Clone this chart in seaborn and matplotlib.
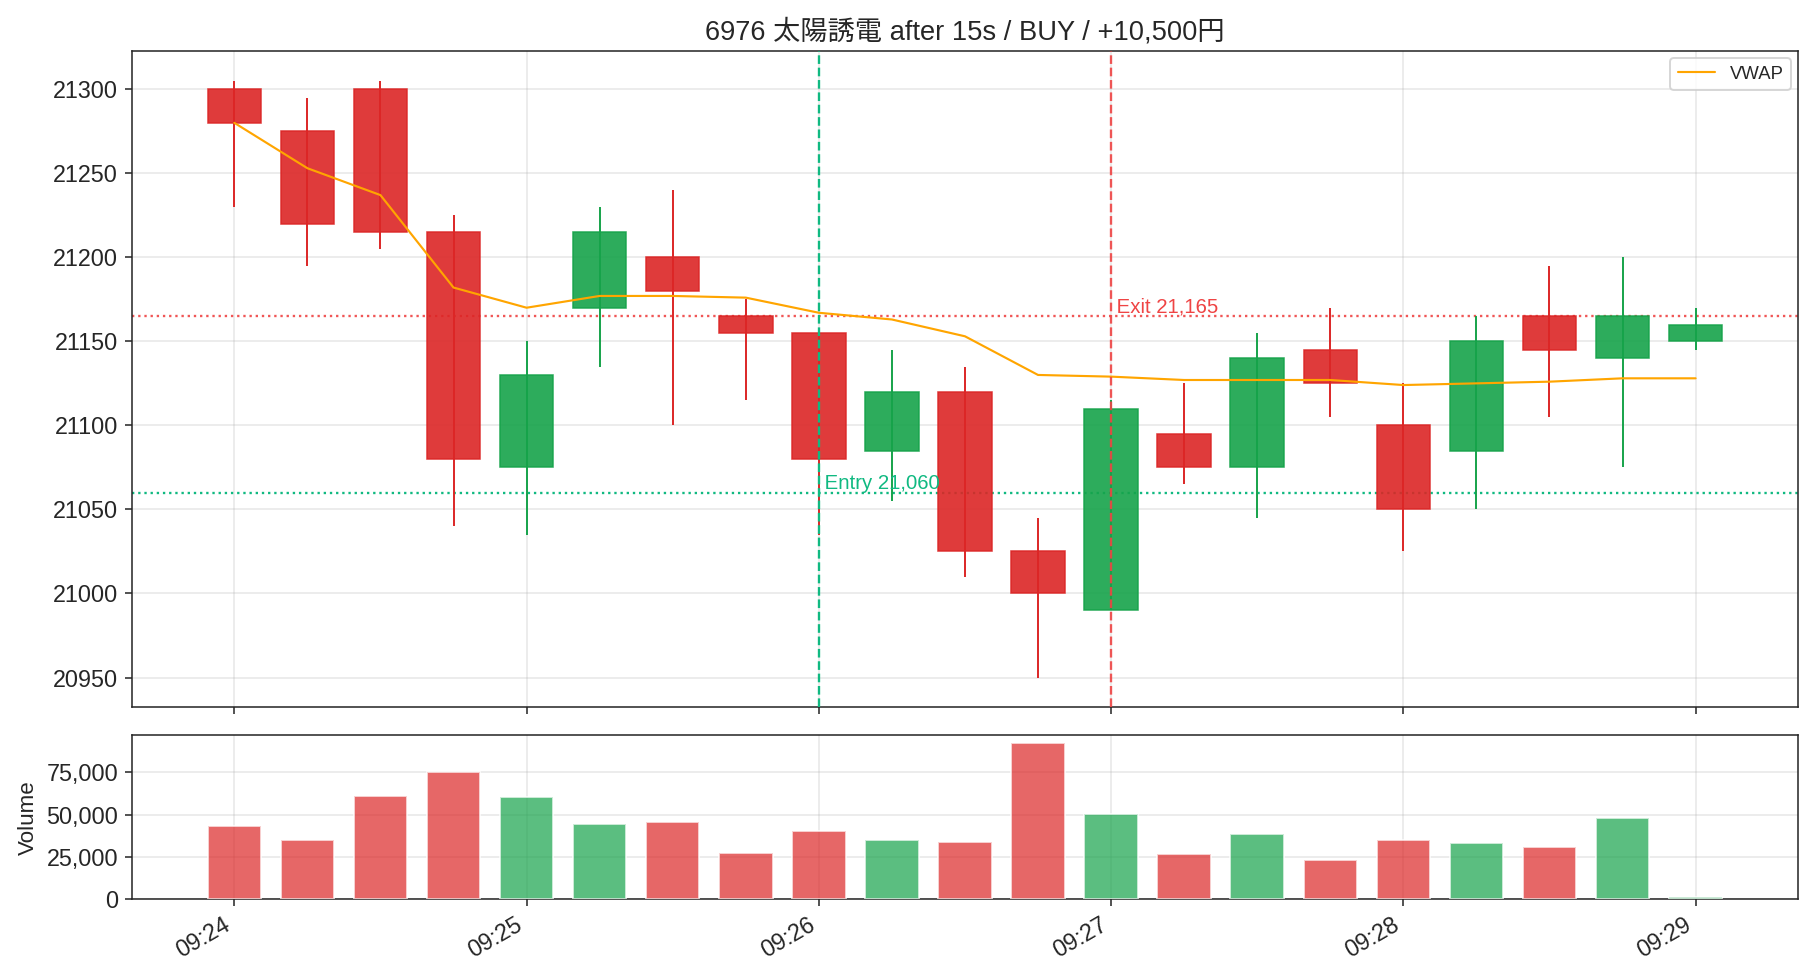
import numpy as np
import pandas as pd
import matplotlib
matplotlib.use("Agg")
import matplotlib.pyplot as plt
import matplotlib.dates as mdates
import matplotlib.ticker as mticker
import seaborn as sns

# ==========================================
# Data (15s bars, 6976 太陽誘電)
# ==========================================
times = ["09:24:00", "09:24:15", "09:24:30", "09:24:45",
         "09:25:00", "09:25:15", "09:25:30", "09:25:45",
         "09:26:00", "09:26:15", "09:26:30", "09:26:45",
         "09:27:00", "09:27:15", "09:27:30", "09:27:45",
         "09:28:00", "09:28:15", "09:28:30", "09:28:45",
         "09:29:00"]
opens = [21300, 21275, 21300, 21215, 21075, 21170, 21200, 21165, 21155, 21085, 21120,
         21025, 20990, 21095, 21075, 21145, 21100, 21085, 21165, 21140, 21150]
highs = [21305, 21295, 21305, 21225, 21150, 21230, 21240, 21175, 21155, 21145, 21135,
         21045, 21115, 21125, 21155, 21170, 21125, 21165, 21195, 21200, 21170]
lows = [21230, 21195, 21205, 21040, 21035, 21135, 21100, 21115, 21035, 21055, 21010,
        20950, 20990, 21065, 21045, 21105, 21025, 21050, 21105, 21075, 21145]
closes = [21280, 21220, 21215, 21080, 21130, 21215, 21180, 21155, 21080, 21120, 21025,
          21000, 21110, 21075, 21140, 21125, 21050, 21150, 21145, 21165, 21160]
vwap = [21280, 21253, 21237, 21182, 21170, 21177, 21177, 21176, 21167, 21163, 21153,
        21130, 21129, 21127, 21127, 21127, 21124, 21125, 21126, 21128, 21128]
volumes = [43200, 35000, 61000, 75000, 60300, 44400, 45600, 27300, 40300, 35000, 33800,
           92100, 50300, 26700, 38500, 23200, 35000, 33200, 30800, 47900, 1400]

entry_time, entry_price = "09:26:00", 21060
exit_time, exit_price = "09:27:00", 21165
title = "6976 太陽誘電 after 15s / BUY / +10,500円"

UP = "#16a34a"
DOWN = "#dc2626"
ENTRY_C = "#10b981"
EXIT_C = "#ef4444"

# ==========================================
# Plot
# ==========================================
sns.set_style("ticks")
plt.rcParams['font.family'] = ['Liberation Sans', 'Noto Sans CJK JP', 'DejaVu Sans']

day = "2024-01-01 "
x = mdates.date2num(pd.to_datetime([day + t for t in times]))
df = pd.DataFrame({"x": x, "open": opens, "high": highs, "low": lows,
                   "close": closes, "vwap": vwap, "volume": volumes})
df["color"] = np.where(df["close"] >= df["open"], UP, DOWN)
width = 11 / 86400

fig = plt.figure(figsize=(13, 7), dpi=140)
gs = fig.add_gridspec(2, 1, height_ratios=[4, 1])
ax = fig.add_subplot(gs[0])
axv = fig.add_subplot(gs[1], sharex=ax)
fig.subplots_adjust(left=0.0724, right=0.988, top=0.948, bottom=0.0823, hspace=0.068)

# candles
ax.vlines(df["x"], df["low"], df["high"], colors=df["color"], linewidth=1.0, zorder=2)
ax.bar(df["x"], (df["close"] - df["open"]).abs(), bottom=df[["open", "close"]].min(axis=1),
       width=width, color=df["color"], edgecolor=df["color"], linewidth=0.8, alpha=0.9, zorder=3)

sns.lineplot(data=df, x="x", y="vwap", ax=ax, color="orange", linewidth=1.1, label="VWAP", zorder=4)

ex = mdates.date2num(pd.Timestamp(day + entry_time))
xx = mdates.date2num(pd.Timestamp(day + exit_time))
ax.axvline(ex, color=ENTRY_C, linestyle="--", linewidth=1.2, zorder=5)
ax.axhline(entry_price, color=ENTRY_C, linestyle=":", linewidth=1.2, zorder=1)
ax.axvline(xx, color=EXIT_C, linestyle="--", linewidth=1.2, alpha=0.9, zorder=5)
ax.axhline(exit_price, color=EXIT_C, linestyle=":", linewidth=1.2, alpha=0.9, zorder=1)
ax.text(ex, entry_price, f" Entry {entry_price:,}", color=ENTRY_C, fontsize=10.5, va="bottom")
ax.text(xx, exit_price, f" Exit {exit_price:,}", color=EXIT_C, fontsize=10.5, va="bottom")

ax.set_title(title, fontsize=14)
ax.set_xlabel("")
ax.set_ylabel("")
ax.ticklabel_format(axis="y", useOffset=False, style="plain")
ax.grid(True, color="#b0b0b0", alpha=0.3)
ax.legend(loc="upper right", fontsize=9.5, borderaxespad=0.4)
ax.tick_params(labelbottom=False, labelsize=12)

# volume
axv.bar(df["x"], df["volume"], width=width, color=df["color"], alpha=0.7, zorder=3)
axv.set_ylabel("Volume", fontsize=11.5)
axv.yaxis.set_major_locator(mticker.MultipleLocator(25000))
axv.yaxis.set_major_formatter(mticker.FuncFormatter(lambda v, p: f"{v:,.0f}"))
axv.grid(True, color="#b0b0b0", alpha=0.3)
axv.tick_params(labelsize=12)

axv.xaxis.set_major_locator(mdates.MinuteLocator())
axv.xaxis.set_major_formatter(mdates.DateFormatter("%H:%M"))
for lbl in axv.get_xticklabels():
    lbl.set_rotation(30)
    lbl.set_ha("right")

plt.savefig("out.png", dpi=140)
